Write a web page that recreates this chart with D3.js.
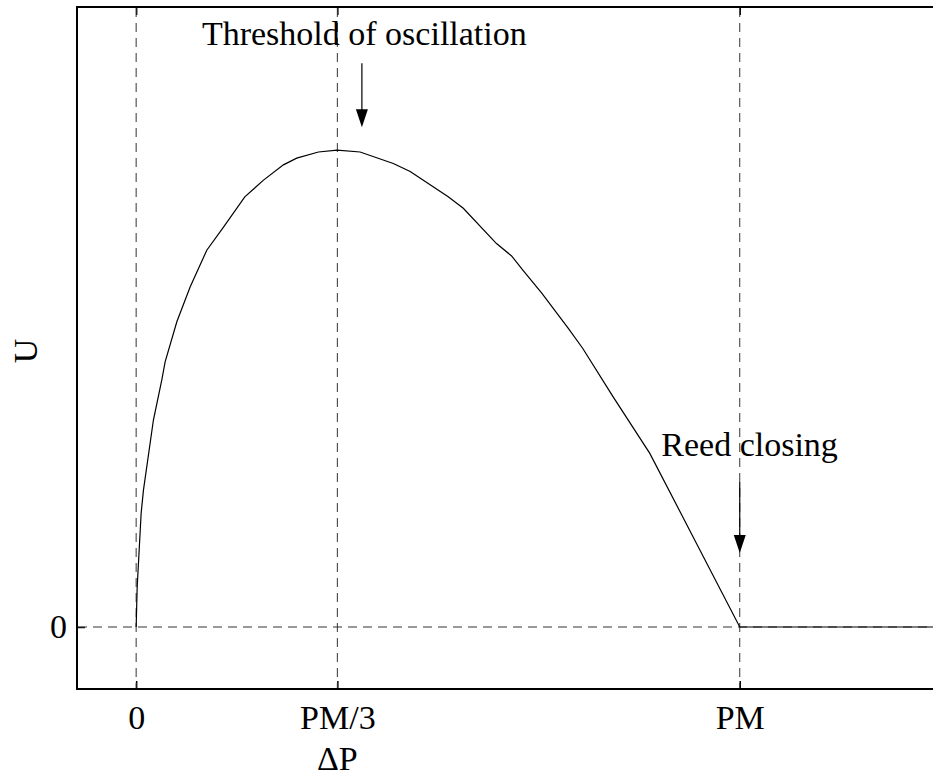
<!DOCTYPE html>
<html>
<head>
<meta charset="UTF-8">
<title>Reed flow</title>
<script src="https://d3js.org/d3.v7.min.js"></script>
<style>
  body { margin: 0; background: #fff; }
  text { font-family: "Liberation Serif", "Times New Roman", serif; }
</style>
</head>
<body>
<div class="canvas"></div>
<script>
// pressure difference (in units of PM) and flow U (relative to its maximum)
const dP = [0, 0.0017, 0.0083, 0.0121, 0.0286, 0.0425, 0.048, 0.0674, 0.0894, 0.117, 0.145, 0.180,
            0.211, 0.244, 0.266, 0.302, 0.333, 0.371, 0.426, 0.454, 0.517, 0.542, 0.597, 0.622,
            0.641, 0.672, 0.716, 0.740, 0.790, 0.851, 0.917, 1.0, 1.4]
const U  = [0, 0.084, 0.239, 0.287, 0.434, 0.518, 0.556, 0.640, 0.713, 0.790, 0.839, 0.902,
            0.937, 0.969, 0.983, 0.996, 1.0, 0.996, 0.972, 0.955, 0.902, 0.878, 0.804, 0.778,
            0.748, 0.700, 0.626, 0.584, 0.483, 0.364, 0.203, 0, 0]

const xTicks = [0, 1 / 3, 1]
const xTickLabels = ['0', 'PM/3', 'PM']
const yTicks = [0]
const yTickLabels = ['0']

const width = 933
const height = 778
let [mt, mb, ml] = [7, 89, 77]
const fs = '34px'

const svg = d3.select('.canvas')
    .append('svg')
    .attr('width', width)
    .attr('height', height)

const x = d3.scaleLinear().domain([-0.098, 1.35]).range([ml, 951])
const y = d3.scaleLinear().domain([-0.13, 1.3]).range([height - mb, mt])

const [x0, x1] = x.range()
const [yb, yt] = y.range()

// box
svg.append('rect')
    .attr('x', x0).attr('y', yt)
    .attr('width', x1 - x0).attr('height', yb - yt)
    .attr('fill', 'none')
    .attr('stroke', '#000')
    .attr('stroke-width', 2)

// axes, ticks pointing inward
const xAxis = d3.axisBottom(x).tickValues(xTicks).tickFormat((d, i) => xTickLabels[i])
    .tickSizeInner(-8).tickSizeOuter(0).tickPadding(16)
const xAxisTop = d3.axisTop(x).tickValues(xTicks).tickFormat('')
    .tickSizeInner(-8).tickSizeOuter(0)
const yAxis = d3.axisLeft(y).tickValues(yTicks).tickFormat((d, i) => yTickLabels[i])
    .tickSizeInner(-8).tickSizeOuter(0).tickPadding(10)

const xG = svg.append('g').attr('transform', `translate(0,${yb})`).call(xAxis)
const xTopG = svg.append('g').attr('transform', `translate(0,${yt})`).call(xAxisTop)
const yG = svg.append('g').attr('transform', `translate(${x0},0)`).call(yAxis)

;[xG, xTopG, yG].forEach(g => {
    g.select('.domain').remove()
    g.selectAll('line').attr('stroke', '#000').attr('stroke-width', 1.5)
    g.selectAll('text')
        .attr('fill', '#000')
        .style('font-family', '"Liberation Serif", serif')
        .style('font-size', fs)
})

// dashed guide lines
const dash = svg.append('g')
    .attr('stroke', '#333')
    .attr('stroke-width', 1)
    .attr('stroke-dasharray', '9,6')

dash.selectAll('.vline')
    .data(xTicks)
    .enter()
    .append('line')
    .attr('x1', d => x(d)).attr('x2', d => x(d))
    .attr('y1', yt + 1).attr('y2', yb - 1)

dash.selectAll('.hline')
    .data(yTicks)
    .enter()
    .append('line')
    .attr('x1', x0 + 1).attr('x2', x1)
    .attr('y1', d => y(d)).attr('y2', d => y(d))

// flow curve
const pts = dP.map((p, i) => [p, U[i]])
const line = d3.line()
    .x(d => x(d[0]))
    .y(d => y(d[1]))

svg.append('path')
    .attr('fill', 'none')
    .attr('stroke', '#000')
    .attr('stroke-width', 1.2)
    .attr('d', line(pts))

// annotations
const notes = [
    { text: 'Threshold of oscillation', tx: 0.109, ty: 1.22, ax: 0.374, ay1: 1.182, ay2: 1.048 },
    { text: 'Reed closing', tx: 0.870, ty: 0.358, ax: 1.0, ay1: 0.304, ay2: 0.155 }
]

notes.forEach(n => {
    svg.append('text')
        .attr('x', x(n.tx))
        .attr('y', y(n.ty))
        .style('font-size', fs)
        .attr('fill', '#000')
        .text(n.text)

    const ax = x(n.ax), a1 = y(n.ay1), a2 = y(n.ay2)
    svg.append('line')
        .attr('x1', ax).attr('x2', ax)
        .attr('y1', a1).attr('y2', a2 - 12)
        .attr('stroke', '#000')
        .attr('stroke-width', 1.2)
    svg.append('path')
        .attr('d', `M${ax - 6},${a2 - 18}L${ax + 6},${a2 - 18}L${ax},${a2}Z`)
        .attr('fill', '#000')
})

// axis titles
svg.append('text')
    .attr('x', x(1 / 3))
    .attr('y', 770)
    .attr('text-anchor', 'middle')
    .style('font-size', fs)
    .text('ΔP')

svg.append('text')
    .attr('transform', `translate(37,${(yt + yb) / 2 + 3}) rotate(-90)`)
    .attr('text-anchor', 'middle')
    .style('font-size', fs)
    .text('U')
</script>
</body>
</html>
